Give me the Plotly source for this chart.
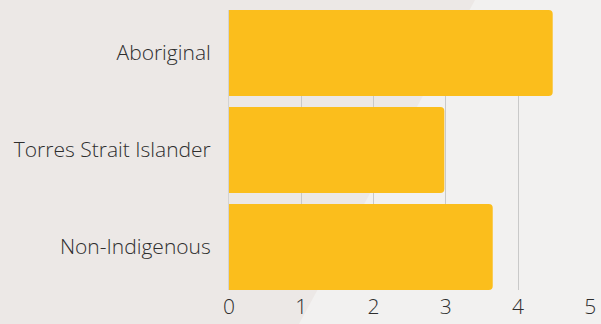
import plotly.graph_objects as go

# Mean values by group
groups = ["Aboriginal", "Torres Strait Islander", "Non-Indigenous"]
values = [4.48, 2.98, 3.65]
x_ticks = [0, 1, 2, 3, 4, 5]

W, H = 601, 324
ML, MR, MT, MB = 229, 10, 10, 34
pw, ph = W - ML - MR, H - MT - MB


def px_to_paper(x, y):
    return (x - ML) / pw, (H - MB - y) / ph


# darker diagonal band on the left side of the background
pts = [px_to_paper(x, y) for x, y in [(0, 0), (475, 0), (299, 324), (0, 324)]]
path = "M " + " L ".join(f"{x:.4f},{y:.4f}" for x, y in pts) + " Z"

fig = go.Figure(
    go.Bar(
        x=values,
        y=groups,
        orientation="h",
        marker=dict(color="#FBBE1C", line=dict(width=0)),
        width=0.887,
        hoverinfo="skip",
    )
)

fig.update_layout(
    width=W,
    height=H,
    margin=dict(l=ML, r=MR, t=MT, b=MB, autoexpand=False),
    paper_bgcolor="#F2F1F0",
    plot_bgcolor="rgba(0,0,0,0)",
    barcornerradius=4,
    showlegend=False,
    font=dict(family="Open Sans", color="#2e2e2e"),
    shapes=[
        dict(
            type="path",
            path=path,
            xref="paper",
            yref="paper",
            fillcolor="#ECE8E6",
            line=dict(width=0),
            layer="below",
        )
    ],
)

fig.update_xaxes(
    range=[0, 5.01],
    tickvals=x_ticks,
    showgrid=True,
    gridcolor="#C9C9C9",
    gridwidth=1,
    zeroline=False,
    showline=False,
    automargin=False,
    tickfont=dict(size=21, family="Open Sans", weight=300, color="#2e2e2e"),
    ticklabelstandoff=2,
)

fig.update_yaxes(
    categoryorder="array",
    categoryarray=groups[::-1],
    range=[-0.4435, 2.4435],
    showgrid=False,
    zeroline=False,
    showline=True,
    linecolor="#D3D3D3",
    linewidth=1,
    automargin=False,
    tickfont=dict(size=21, family="Open Sans", weight=300, color="#2e2e2e"),
    ticklabelstandoff=13,
)

fig.write_html("out.html")
